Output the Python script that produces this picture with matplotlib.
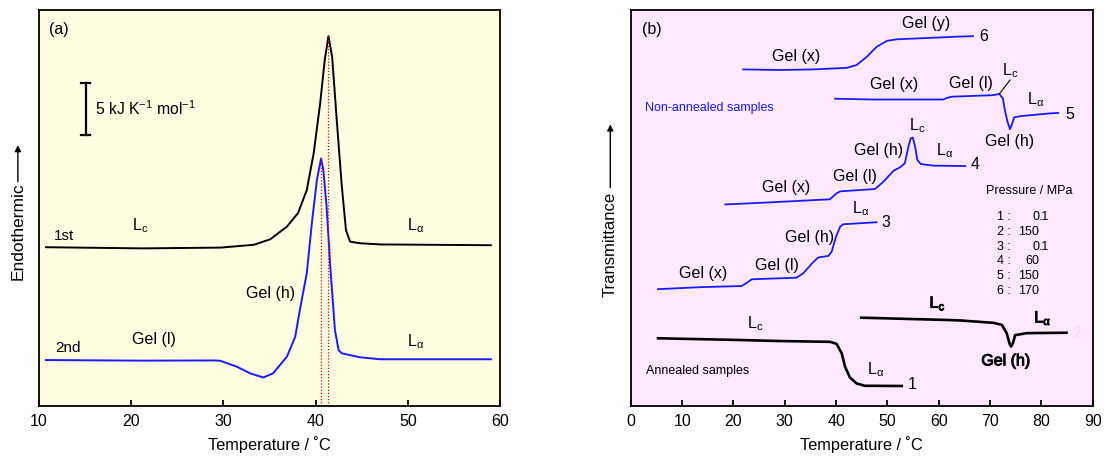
import matplotlib
matplotlib.use("Agg")
import matplotlib.pyplot as plt
import matplotlib.patheffects as pe
from matplotlib.patches import FancyArrowPatch

plt.rcParams['font.family'] = ['Liberation Sans', 'DejaVu Sans']
plt.rcParams['mathtext.fontset'] = 'custom'
plt.rcParams['mathtext.rm'] = 'Liberation Sans'

# ---------------- data: panel (a) DSC ----------------
a_first_T = [10.8, 21.3, 29.7, 33.3, 35.1, 36.9, 38.1, 39.05, 39.8, 40.5, 41.0, 41.4, 41.8, 42.3, 42.85,
             43.3, 43.75, 44.8, 47.0, 59.0]
a_first_y = [40.1, 39.8, 40.0, 40.7, 42.1, 45.3, 48.7, 54.5, 63.8, 76.4, 87.4, 93.4, 88.2, 72.2, 55.4,
             44.4, 41.5, 41.1, 40.8, 40.6]
a_second_T = [10.8, 21.3, 29.0, 29.7, 31.5, 32.9, 34.35, 35.4, 36.9, 37.8, 38.3, 39.05, 39.6, 40.15, 40.6,
              40.85, 41.2, 41.6, 42.1, 42.5, 42.85, 44.8, 47.0, 59.0]
a_second_y = [11.6, 11.45, 11.5, 11.4, 9.9, 8.25, 7.2, 8.25, 12.45, 17.5, 24.2, 33.5, 46.1, 57.1, 62.5,
              59.6, 50.3, 35.2, 19.2, 14.1, 13.3, 12.3, 11.8, 11.8]
a_peaks = [40.6, 41.4]
a_xticks = [10, 20, 30, 40, 50, 60]

# ---------------- data: panel (b) transmittance ----------------
c6_T = [21.9, 29.1, 35.6, 42.1, 44.0, 46.0, 47.9, 49.9, 51.8, 64.2, 66.7]
c6_y = [85.0, 84.85, 85.0, 85.4, 86.1, 88.2, 90.7, 92.2, 92.6, 93.3, 93.4]
c5_T = [39.8, 47.1, 60.9, 61.6, 62.5, 70.65, 71.8, 72.5, 72.9, 73.4, 73.9, 74.35, 74.7, 76.0, 78.4, 81.7, 83.3]
c5_y = [77.6, 77.4, 77.4, 77.8, 78.1, 78.5, 78.8, 77.7, 74.7, 71.8, 69.9, 71.4, 72.9, 73.2, 73.5, 73.9, 74.0]
c4_T = [18.4, 26.8, 38.8, 40.1, 40.8, 47.6, 49.2, 51.2, 52.5, 53.4, 54.1, 54.55, 54.95, 55.4, 55.85, 56.5,
        59.0, 65.2]
c4_y = [50.9, 51.4, 52.2, 53.7, 54.2, 54.8, 56.6, 59.4, 60.3, 61.3, 65.5, 67.6, 67.8, 65.5, 62.1, 61.1,
        60.7, 60.6]
c3_T = [5.3, 13.5, 21.6, 22.6, 23.6, 32.3, 33.6, 35.3, 36.5, 38.5, 39.15, 40.0, 40.8, 41.4, 47.9]
c3_y = [29.5, 30.0, 30.3, 31.1, 32.0, 32.4, 33.5, 36.0, 37.5, 37.9, 39.0, 42.8, 45.3, 45.9, 46.4]
c2_T = [44.9, 62.2, 64.2, 70.65, 72.3, 73.25, 73.8, 74.1, 74.45, 74.9, 77.2, 84.9]
c2_y = [22.3, 21.7, 21.6, 21.0, 20.5, 18.4, 15.8, 15.0, 15.8, 17.9, 18.4, 18.5]
c1_T = [5.3, 20.0, 29.1, 38.8, 40.1, 41.1, 41.75, 42.7, 44.0, 45.6, 52.8]
c1_y = [17.1, 16.7, 16.4, 16.2, 15.7, 13.3, 9.9, 7.2, 5.7, 5.1, 5.05]
pressure_ids = ['1', '2', '3', '4', '5', '6']
pressure_vals = ['0.1', '150', '0.1', '60', '150', '170']
b_xticks = [0, 10, 20, 30, 40, 50, 60, 70, 80, 90]

LC = r'L$_\mathregular{c}$'
LA = r'L$_\mathregular{α}$'

fig = plt.figure(figsize=(11.04, 4.59), dpi=100)
axA = fig.add_axes([0.0350, 0.1155, 0.4180, 0.8627])
axB = fig.add_axes([0.5714, 0.1155, 0.4183, 0.8627])

for ax, bg in ((axA, '#fffde2'), (axB, '#fde9fb')):
    ax.set_facecolor(bg)
    for s in ax.spines.values():
        s.set_linewidth(1.3)
    ax.set_yticks([])
    ax.tick_params(axis='x', direction='in', length=4, width=1.3, labelsize=11.5, pad=6, top=False)
    ax.set_ylim(0, 100)
    ax.set_xlabel('Temperature / ˚C', fontsize=11.8, labelpad=5)

# ---------- panel (a) ----------
axA.set_xlim(10, 60)
axA.set_xticks(a_xticks)
axA.plot(a_first_T, a_first_y, color='black', lw=1.4, solid_joinstyle='round')
axA.plot(a_second_T, a_second_y, color='#1a1aff', lw=1.4, solid_joinstyle='round')
axA.vlines(a_peaks[0], 0, max(a_second_y), colors='red', linestyles=(0, (1, 1.5)), lw=0.9)
axA.vlines(a_peaks[1], 0, max(a_first_y), colors='red', linestyles=(0, (1, 1.5)), lw=0.9)
# scale bar
axA.plot([15.1, 15.1], [68.4, 81.6], color='black', lw=1.6)
axA.plot([14.6, 15.6], [81.6, 81.6], color='black', lw=1.6)
axA.plot([14.6, 15.6], [68.4, 68.4], color='black', lw=1.6)
axA.text(16.1, 75.0, r'5 kJ K$^\mathregular{-1}$ mol$^\mathregular{-1}$', fontsize=11.3, va='center')
axA.text(11.1, 95.0, '(a)', fontsize=11.5, va='center')
axA.text(11.7, 42.9, '1st', fontsize=11, va='center')
axA.text(20.1, 45.5, LC, fontsize=11.5, va='center')
axA.text(49.9, 45.5, LA, fontsize=11.5, va='center')
axA.text(11.8, 14.6, '2nd', fontsize=11, va='center')
axA.text(20.1, 16.8, 'Gel (l)', fontsize=11.5, va='center')
axA.text(32.5, 28.4, 'Gel (h)', fontsize=11.5, va='center')
axA.text(49.9, 16.3, LA, fontsize=11.5, va='center')

fig.text(0.0162, 0.497, 'Endothermic', rotation=90, fontsize=12.5, ha='center', va='center')
fig.add_artist(FancyArrowPatch((0.0162, 0.598), (0.0162, 0.690), transform=fig.transFigure,
                               arrowstyle='-|>', mutation_scale=9, lw=1.0, color='black'))

# ---------- panel (b) ----------
axB.set_xlim(0, 90)
axB.set_xticks(b_xticks)
blue = '#1a1aff'
for T, y in ((c6_T, c6_y), (c5_T, c5_y), (c4_T, c4_y), (c3_T, c3_y)):
    axB.plot(T, y, color=blue, lw=1.3, solid_joinstyle='round')
axB.plot(c2_T, c2_y, color='black', lw=1.9, solid_joinstyle='round')
axB.plot(c1_T, c1_y, color='black', lw=1.9, solid_joinstyle='round')
axB.plot([71.8, 73.9], [78.8, 82.3], color='black', lw=0.8)

fs = 11.5
axB.text(2.1, 95.1, '(b)', fontsize=11.5, va='center')
axB.text(57.5, 96.5, 'Gel (y)', fontsize=fs, ha='center', va='center')
axB.text(68.7, 93.4, '6', fontsize=fs, ha='center', va='center')
axB.text(32.2, 88.2, 'Gel (x)', fontsize=fs, ha='center', va='center')
axB.text(51.3, 81.1, 'Gel (x)', fontsize=fs, ha='center', va='center')
axB.text(66.2, 81.5, 'Gel (l)', fontsize=fs, ha='center', va='center')
axB.text(74.0, 84.6, LC, fontsize=fs, ha='center', va='center')
axB.text(78.8, 77.3, LA, fontsize=fs, ha='center', va='center')
axB.text(85.5, 73.7, '5', fontsize=fs, ha='center', va='center')
axB.text(73.8, 66.8, 'Gel (h)', fontsize=fs, ha='center', va='center')
axB.text(2.8, 75.2, 'Non-annealed samples', fontsize=9, color=blue, va='center')
axB.text(55.8, 70.9, LC, fontsize=fs, ha='center', va='center')
axB.text(48.2, 64.6, 'Gel (h)', fontsize=fs, ha='center', va='center')
axB.text(61.2, 64.4, LA, fontsize=fs, ha='center', va='center')
axB.text(67.1, 60.9, '4', fontsize=fs, ha='center', va='center')
axB.text(30.3, 55.2, 'Gel (x)', fontsize=fs, ha='center', va='center')
axB.text(43.7, 57.9, 'Gel (l)', fontsize=fs, ha='center', va='center')
axB.text(14.1, 33.5, 'Gel (x)', fontsize=fs, ha='center', va='center')
axB.text(28.5, 35.4, 'Gel (l)', fontsize=fs, ha='center', va='center')
axB.text(34.9, 42.6, 'Gel (h)', fontsize=fs, ha='center', va='center')
axB.text(44.8, 49.9, LA, fontsize=fs, ha='center', va='center')
axB.text(49.8, 46.3, '3', fontsize=fs, ha='center', va='center')
axB.text(24.3, 20.7, LC, fontsize=fs, ha='center', va='center')
axB.text(47.7, 9.3, LA, fontsize=fs, ha='center', va='center')
axB.text(54.8, 5.5, '1', fontsize=fs, ha='center', va='center')
axB.text(3.0, 8.9, 'Annealed samples', fontsize=9, va='center')
bold = [pe.withStroke(linewidth=0.7, foreground='black')]
axB.text(59.8, 26.0, LC, fontsize=fs, ha='center', va='center', path_effects=bold)
axB.text(80.3, 22.3, LA, fontsize=fs, ha='center', va='center', path_effects=bold)
axB.text(73.1, 11.4, 'Gel (h)', fontsize=fs, ha='center', va='center', path_effects=bold)
axB.text(86.8, 18.4, '2', fontsize=fs, ha='center', va='center', color='#f8d8f6')

# pressure table
axB.text(69.2, 54.3, 'Pressure / MPa', fontsize=9, va='center')
row_y0, row_dy = 47.7, 3.72
for i, (pid, val) in enumerate(zip(pressure_ids, pressure_vals)):
    yy = row_y0 - i * row_dy
    axB.text(71.3, yy, pid + ' :', fontsize=9, va='center')
    ip, _, fp = val.partition('.')
    axB.text(79.6, yy, ip, fontsize=9, va='center', ha='right')
    if fp:
        axB.text(79.6, yy, '.' + fp, fontsize=9, va='center', ha='left')

fig.text(0.5528, 0.468, 'Transmittance', rotation=90, fontsize=12, ha='center', va='center')
fig.add_artist(FancyArrowPatch((0.5528, 0.585), (0.5528, 0.735), transform=fig.transFigure,
                               arrowstyle='-|>', mutation_scale=9, lw=1.0, color='black'))

fig.savefig('out.png', dpi=100)
